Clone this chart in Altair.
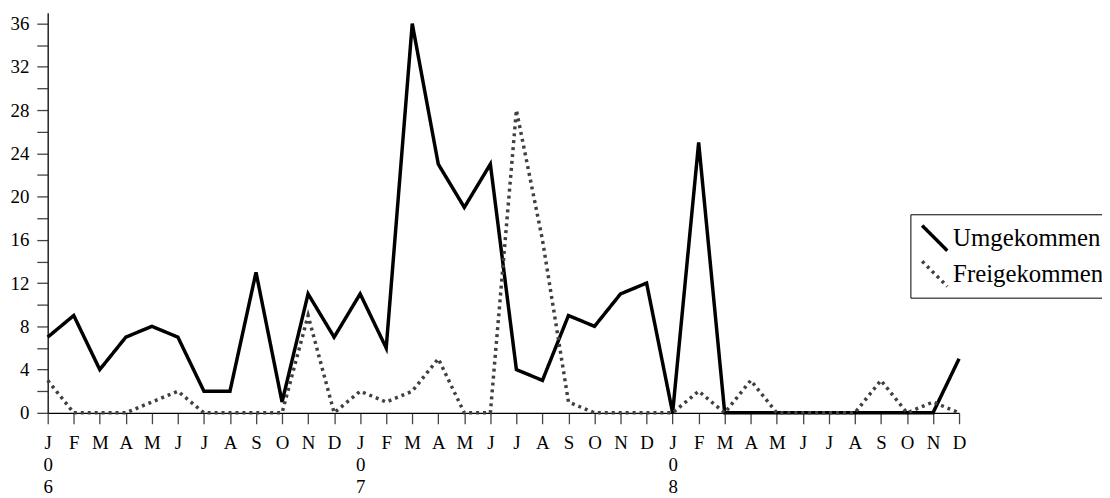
import json
import altair as alt
import pandas as pd

months = ["J|0|6", "F", "M", "A", "M", "J", "J", "A", "S", "O", "N", "D",
          "J|0|7", "F", "M", "A", "M", "J", "J", "A", "S", "O", "N", "D",
          "J|0|8", "F", "M", "A", "M", "J", "J", "A", "S", "O", "N", "D"]

umgekommen = [7, 9, 4, 7, 8, 7, 2, 2, 13, 1, 11, 7,
              11, 6, 36, 23, 19, 23, 4, 3, 9, 8, 11, 12,
              0, 25, 0, 0, 0, 0, 0, 0, 0, 0, 0, 5]

freigekommen = [3, 0, 0, 0, 1, 2, 0, 0, 0, 0, 9, 0,
                2, 1, 2, 5, 0, 0, 28, 16, 1, 0, 0, 0,
                0, 2, 0, 3, 0, 0, 0, 0, 3, 0, 1, 0]

series_names = ["Umgekommen", "Freigekommen"]
y_ticks = list(range(0, 37, 2))

rows = []
for i in range(len(months)):
    rows.append({"idx": i, "serie": series_names[0], "value": umgekommen[i]})
for i in range(len(months)):
    rows.append({"idx": i, "serie": series_names[1], "value": freigekommen[i]})
df = pd.DataFrame(rows)

label_expr = "split(" + json.dumps(months) + "[datum.value], '|')"

font = "Liberation Serif"

legend_kw = dict(title=None, orient="none", legendX=869, legendY=203,
                 symbolType="M-1,-1L1,1", symbolSize=640,
                 symbolStrokeWidth=3.5, symbolFillColor="transparent",
                 labelFont=font, labelFontSize=25, labelColor="black",
                 labelOffset=4, rowPadding=8, padding=10, clipHeight=28,
                 strokeColor="black", fillColor="white")

chart = alt.Chart(df).mark_line(strokeWidth=3.5, strokeCap="butt", strokeJoin="miter").encode(
    x=alt.X("idx:Q",
            scale=alt.Scale(domain=[0, len(months) - 1], nice=False, zero=False),
            axis=alt.Axis(values=list(range(len(months))), labelExpr=label_expr,
                          title=None, grid=False, labelFlush=False, labelOverlap=False,
                          labelFont=font, labelFontSize=19, labelColor="black",
                          labelLineHeight=22, labelPadding=10, labelBaseline="top",
                          tickSize=11, tickColor="#444", tickWidth=1.3,
                          domainColor="black", domainWidth=1.3)),
    y=alt.Y("value:Q",
            scale=alt.Scale(domain=[0, 37], nice=False),
            axis=alt.Axis(values=y_ticks,
                          labelExpr="datum.value % 4 == 0 ? datum.label : ''",
                          title=None, grid=False, labelFont=font, labelFontSize=19,
                          labelColor="black", labelPadding=8,
                          tickSize=11, tickColor="#444", tickWidth=1.3,
                          domainColor="#222", domainWidth=1.5)),
    color=alt.Color("serie:N",
                    scale=alt.Scale(domain=series_names, range=["black", "#404040"]),
                    legend=alt.Legend(**legend_kw)),
    strokeDash=alt.StrokeDash("serie:N",
                              scale=alt.Scale(domain=series_names, range=[[1, 0], [3, 4]]),
                              legend=alt.Legend(**legend_kw)),
    order=alt.Order("idx:Q"),
).properties(
    width=918,
    height=403,
    autosize=alt.AutoSizeParams(type="none"),
    padding={"left": 40, "top": 3, "right": 144, "bottom": 84},
).configure(font=font).configure_view(stroke=None)

chart.save("out.html", embed_options={"renderer": "svg", "actions": False})
